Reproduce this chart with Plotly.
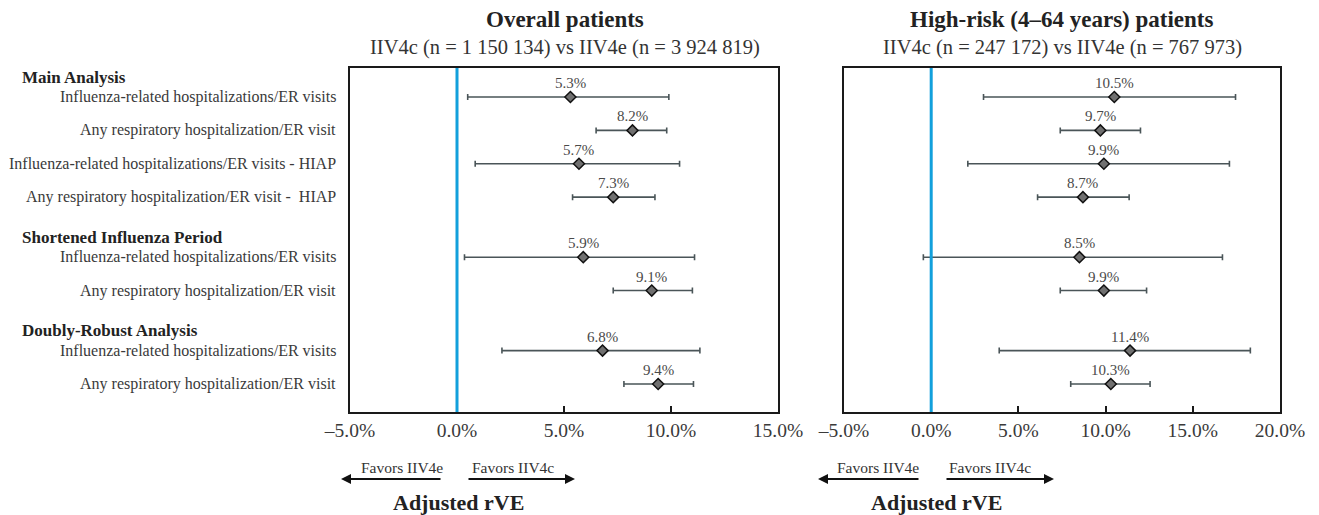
import plotly.graph_objects as go

# ---------------- data ----------------
groups = ["Main Analysis", "Shortened Influenza Period", "Doubly-Robust Analysis"]
group_sizes = [4, 2, 2]
outcomes = [
    "Influenza-related hospitalizations/ER visits",
    "Any respiratory hospitalization/ER visit",
    "Influenza-related hospitalizations/ER visits - HIAP",
    "Any respiratory hospitalization/ER visit -  HIAP",
    "Influenza-related hospitalizations/ER visits",
    "Any respiratory hospitalization/ER visit",
    "Influenza-related hospitalizations/ER visits",
    "Any respiratory hospitalization/ER visit",
]

overall_rve = [5.3, 8.2, 5.7, 7.3, 5.9, 9.1, 6.8, 9.4]
overall_lo = [0.5, 6.5, 0.85, 5.4, 0.35, 7.3, 2.1, 7.8]
overall_hi = [9.9, 9.8, 10.4, 9.25, 11.1, 11.0, 11.35, 11.05]

highrisk_rve = [10.5, 9.7, 9.9, 8.7, 8.5, 9.9, 11.4, 10.3]
highrisk_lo = [3.0, 7.4, 2.1, 6.1, -0.45, 7.4, 3.9, 8.0]
highrisk_hi = [17.45, 12.0, 17.1, 11.35, 16.7, 12.35, 18.3, 12.55]

panel_titles = ["Overall patients", "High-risk (4\u201364 years) patients"]
panel_subtitles = [
    "IIV4c (n = 1 150 134) vs IIV4e (n = 3 924 819)",
    "IIV4c (n = 247 172) vs IIV4e (n = 767 973)",
]
left_ticks = [-5, 0, 5, 10, 15]
left_tick_labels = ["\u20135.0%", "0.0%", "5.0%", "10.0%", "15.0%"]
right_ticks = [-5, 0, 5, 10, 15, 20]
right_tick_labels = ["\u20135.0%", "0.0%", "5.0%", "10.0%", "15.0%", "20.0%"]

# ---------------- layout helpers ----------------
W, H = 1319, 515
FONT = "Liberation Serif"


def px(xp):
    return xp / W


def py(yp):
    return 1 - yp / H


slots = []
header_y = []
pos = 0.0
for gi, n in enumerate(group_sizes):
    if gi > 0:
        pos += 0.8
    header_y.append(pos - 0.6)
    for _ in range(n):
        slots.append(pos)
        pos += 1

fig = go.Figure()

panels = [
    (overall_rve, overall_lo, overall_hi, "x", "y"),
    (highrisk_rve, highrisk_lo, highrisk_hi, "x2", "y2"),
]
for vals, lo, hi, xa, ya in panels:
    fig.add_trace(go.Scatter(
        x=vals, y=slots, xaxis=xa, yaxis=ya, mode="markers",
        marker=dict(symbol="diamond", size=8.5, color="#707070",
                    line=dict(color="#111111", width=1.5)),
        error_x=dict(type="data", symmetric=False,
                     array=[h - v for h, v in zip(hi, vals)],
                     arrayminus=[v - l for v, l in zip(vals, lo)],
                     color="#4a5558", thickness=1.6, width=3),
        showlegend=False, hoverinfo="skip",
    ))

axis_common = dict(showline=True, mirror=True, linecolor="#1a1a1a", linewidth=1.5,
                   showgrid=False, zeroline=False, automargin=False)
ydom = [py(412), py(68)]
yrange = [slots[-1] + 0.84, -0.87]

fig.update_layout(
    width=W, height=H, autosize=False,
    margin=dict(l=0, r=0, t=0, b=0, pad=0, autoexpand=False),
    plot_bgcolor="white", paper_bgcolor="white",
    font=dict(family=FONT, color="#333333"),
    xaxis=dict(domain=[px(350), px(778)], range=[-5, 15], tickmode="array",
               tickvals=left_ticks, ticktext=left_tick_labels,
               ticks="inside", ticklen=6, tickcolor="#1a1a1a", tickwidth=1.5,
               tickfont=dict(size=19.5, color="#3a3a3a", family=FONT), anchor="y",
               **axis_common),
    yaxis=dict(domain=ydom, range=yrange, showticklabels=False, ticks="",
               anchor="x", **axis_common),
    xaxis2=dict(domain=[px(844), px(1280)], range=[-5, 20], tickmode="array",
                tickvals=right_ticks, ticktext=right_tick_labels,
                ticks="inside", ticklen=6, tickcolor="#1a1a1a", tickwidth=1.5,
                tickfont=dict(size=19.5, color="#3a3a3a", family=FONT), anchor="y2",
                **axis_common),
    yaxis2=dict(domain=ydom, range=yrange, showticklabels=False, ticks="",
                anchor="x2", **axis_common),
)

# blue reference line at 0
for xa, ya in [("x", "y"), ("x2", "y2")]:
    fig.add_shape(type="line", xref=xa, yref=f"{ya} domain", x0=0, x1=0, y0=0, y1=1,
                  line=dict(color="#12a0dc", width=3), layer="above")

ann = []


def note(**kw):
    kw.setdefault("showarrow", False)
    kw.setdefault("xanchor", "center")
    kw.setdefault("yanchor", "middle")
    ann.append(kw)


# value labels
for vals, lo, hi, xa, ya in panels:
    for v, s in zip(vals, slots):
        note(x=v, y=s, xref=xa, yref=ya, text=f"{v:.1f}%", yshift=14,
             font=dict(size=15, color="#4a4a4a", family=FONT))

# row labels
for lab, s in zip(outcomes, slots):
    note(x=px(338), y=s, xref="paper", yref="y", text=lab, xanchor="right",
         font=dict(size=16, color="#3a3a3a", family=FONT))
for g, hy in zip(groups, header_y):
    note(x=px(20), y=hy, xref="paper", yref="y", text=f"<b>{g}</b>", xanchor="left",
         font=dict(size=17, color="#222222", family=FONT))

# titles
for cx, t, st in zip([565, 1062], panel_titles, panel_subtitles):
    note(x=px(cx), y=py(19), xref="paper", yref="paper", text=f"<b>{t}</b>",
         font=dict(size=23, color="#222222", family=FONT))
    note(x=px(cx), y=py(47), xref="paper", yref="paper", text=st,
         font=dict(size=20.5, color="#333333", family=FONT))

# favors arrows and axis titles
for (e_c, e_h, e_t, c_c, c_t, c_h, rve_c) in [
    (402, 341, 442, 513, 467, 575, 458),
    (878, 818, 920, 990, 945, 1054, 936),
]:
    note(x=px(e_c), y=py(467), xref="paper", yref="paper", text="Favors IIV4e",
         font=dict(size=15.5, color="#333333", family=FONT))
    note(x=px(c_c), y=py(467), xref="paper", yref="paper", text="Favors IIV4c",
         font=dict(size=15.5, color="#333333", family=FONT))
    note(x=px(e_h), y=py(479), xref="paper", yref="paper", text="",
         showarrow=True, ax=e_t - e_h, ay=0, arrowhead=2, arrowsize=1,
         arrowwidth=2, arrowcolor="#111111")
    note(x=px(c_h), y=py(479), xref="paper", yref="paper", text="",
         showarrow=True, ax=c_t - c_h, ay=0, arrowhead=2, arrowsize=1,
         arrowwidth=2, arrowcolor="#111111")
    note(x=px(rve_c), y=py(502), xref="paper", yref="paper",
         text="<b>Adjusted rVE</b>", font=dict(size=22, color="#222222", family=FONT))

fig.update_layout(annotations=ann)
fig.write_html(
    "out.html",
    config={"displayModeBar": False},
    post_script="document.body.style.margin='0';document.body.style.overflow='hidden';",
)
